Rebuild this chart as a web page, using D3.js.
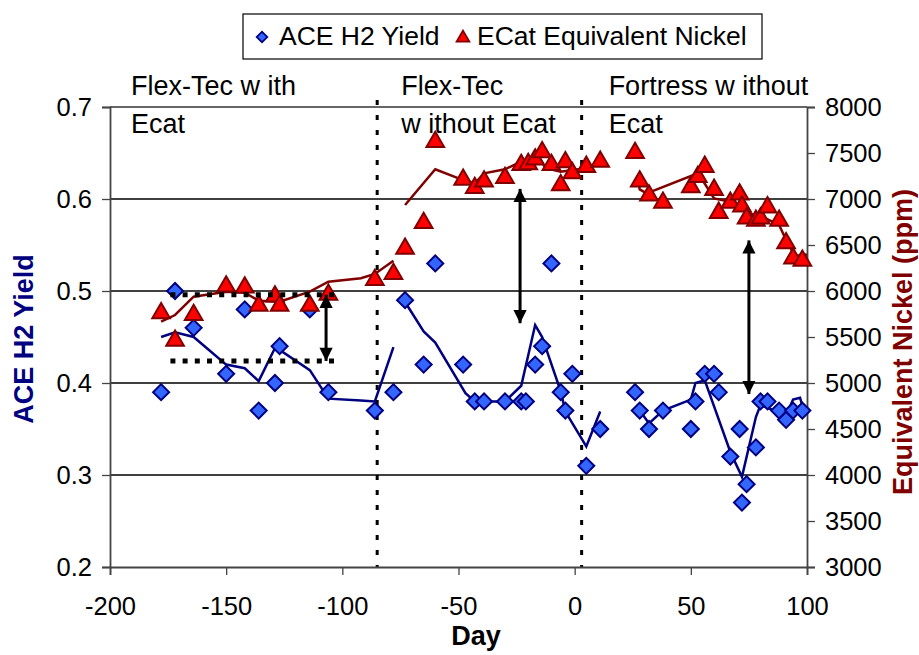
<!DOCTYPE html>
<html>
<head>
<meta charset="utf-8">
<script src="https://cdn.jsdelivr.net/npm/d3@7/dist/d3.min.js"></script>
<style>
  html, body { margin: 0; padding: 0; background: #fff; }
  svg { display: block; font-family: "Liberation Sans", Arial, sans-serif; }
</style>
</head>
<body>
<svg id="chart" width="919" height="655"></svg>
<script>
// ---- data ----
const yieldDays = [-178, -172, -164, -150, -142, -136, -129, -127, -114, -106,
  -86, -78, -73, -65, -60, -48, -43, -39, -30, -23, -21, -17, -14, -10, -6, -4, -1, 5, 11,
  26, 28, 32, 38, 50, 52, 56, 60, 62, 67, 71, 72, 74, 78, 80, 83, 88, 91, 94, 98];
const yieldValues = [0.39, 0.50, 0.46, 0.41, 0.48, 0.37, 0.40, 0.44, 0.48, 0.39,
  0.37, 0.39, 0.49, 0.42, 0.53, 0.42, 0.38, 0.38, 0.38, 0.38, 0.38, 0.42, 0.44, 0.53, 0.39, 0.37, 0.41, 0.31, 0.35,
  0.39, 0.37, 0.35, 0.37, 0.35, 0.38, 0.41, 0.41, 0.39, 0.32, 0.35, 0.27, 0.29, 0.33, 0.38, 0.38, 0.37, 0.36, 0.37, 0.37];

const nickelDays = [-178, -172, -164, -150, -142, -136, -129, -127, -114, -106,
  -86, -78, -73, -65, -60, -48, -43, -39, -30, -23, -20, -17, -14, -10, -6, -4, -1, 5, 11,
  26, 28, 32, 38, 50, 53, 56, 60, 62, 67, 71, 72, 74, 78, 80, 83, 88, 91, 94, 98];
const nickelValues = [5760, 5460, 5740, 6050, 6040, 5840, 5940, 5840, 5840, 5960,
  6120, 6185, 6460, 6740, 7620, 7210, 7120, 7190, 7230, 7370, 7380, 7430, 7510, 7370, 7150, 7400, 7280, 7350, 7405,
  7500, 7190, 7040, 6960, 7130, 7240, 7350, 7100, 6850, 6960, 7050, 6920, 6790, 6765, 6790, 6910, 6765, 6520, 6355, 6330];

// smoothed trend, one segment per operating period
const yieldTrendDays = [
  [-178, -172, -164, -150, -142, -136, -129, -127, -114, -106, -92, -86, -78],
  [-73, -65, -60, -47, -43, -39, -30, -23, -17, -14, -6, -4, 5, 11],
  [28, 32, 38, 50, 52, 56, 67, 72, 78, 80, 84, 88, 91, 94, 97, 98.5]
];
const yieldTrendValues = [
  [0.450, 0.455, 0.450, 0.420, 0.416, 0.402, 0.438, 0.436, 0.414, 0.383, 0.381, 0.380, 0.439],
  [0.488, 0.456, 0.444, 0.389, 0.380, 0.380, 0.380, 0.397, 0.463, 0.450, 0.391, 0.369, 0.331, 0.369],
  [0.370, 0.356, 0.370, 0.382, 0.400, 0.403, 0.325, 0.298, 0.363, 0.376, 0.372, 0.368, 0.365, 0.382, 0.384, 0.371]
];
const nickelTrendDays = [
  [-178, -172, -164, -150, -142, -136, -127, -114, -106, -92, -86, -78],
  [-73, -60, -48, -43, -39, -30, -23, -16, -12, -6, -1, 5, 11],
  [27, 28, 31, 53, 55, 60, 67, 74, 78, 80, 88, 91, 95, 98, 100]
];
const nickelTrendValues = [
  [5667, 5739, 5938, 5993, 5982, 5895, 5884, 5993, 6101, 6138, 6185, 6329],
  [6935, 7323, 7206, 7170, 7279, 7323, 7405, 7442, 7334, 7297, 7315, 7334, 7388],
  [7243, 7105, 7062, 7279, 7206, 7007, 6971, 6880, 6801, 6815, 6717, 6554, 6373, 6402, 6391]
];

// period boundaries and labels
const periodBoundaries = [-85, 3];
const periodStarts = [-200, -85, 3];
const periodLabels = [["Flex-Tec w ith", "Ecat"], ["Flex-Tec", "w ithout Ecat"], ["Fortress w ithout", "Ecat"]];

// yield-gap markers (left axis units)
const gapDays = [-107, -23.5, 75];
const gapTop = [0.496, 0.611, 0.555];
const gapBottom = [0.424, 0.465, 0.388];
const levelLineDays = [-174, -101];
const levelLineValues = [0.496, 0.424];

const xTicks = [-200, -150, -100, -50, 0, 50, 100];
const leftTicks = [0.2, 0.3, 0.4, 0.5, 0.6, 0.7];
const rightTicks = [3000, 3500, 4000, 4500, 5000, 5500, 6000, 6500, 7000, 7500, 8000];

const seriesNames = ["ACE H2 Yield", "ECat Equivalent Nickel"];

// ---- layout ----
const plot = { left: 110, right: 807, top: 107, bottom: 567 };
const svg = d3.select("#chart");

const x = d3.scaleLinear().domain([-200, 100]).range([plot.left, plot.right]);
const yL = d3.scaleLinear().domain([0.2, 0.7]).range([plot.bottom, plot.top]);
const yR = d3.scaleLinear().domain([3000, 8000]).range([plot.bottom, plot.top]);

const navy = "#000080", blueFill = "#3366FF";
const darkRed = "#800000", redFill = "#FF0000";

// gridlines
svg.append("g").selectAll("line").data(leftTicks.slice(1, -1)).join("line")
  .attr("x1", plot.left).attr("x2", plot.right)
  .attr("y1", d => yL(d)).attr("y2", d => yL(d))
  .attr("stroke", "#000").attr("stroke-width", 1.3);
svg.append("line")
  .attr("x1", plot.left).attr("x2", plot.right)
  .attr("y1", plot.top).attr("y2", plot.top)
  .attr("stroke", "#666").attr("stroke-width", 1.8);

// period boundaries
svg.append("g").selectAll("line").data(periodBoundaries).join("line")
  .attr("x1", d => x(d)).attr("x2", d => x(d))
  .attr("y1", plot.top - 7).attr("y2", plot.bottom)
  .attr("stroke", "#000").attr("stroke-width", 3)
  .attr("stroke-dasharray", "5,10");

// axes
function styleAxis(g) {
  g.selectAll(".domain").attr("stroke", "#444").attr("stroke-width", 1.8);
  g.selectAll(".tick line").attr("stroke", "#444").attr("stroke-width", 1.3);
  g.selectAll(".tick text").attr("fill", "#000").style("font-size", "25.5px")
    .style("font-family", "'Liberation Sans', Arial, sans-serif");
}
svg.append("g").attr("transform", `translate(0,${plot.bottom})`)
  .call(d3.axisBottom(x).tickValues(xTicks).tickSize(8).tickPadding(22).tickFormat(d3.format("d")))
  .call(styleAxis);
svg.append("g").attr("transform", `translate(${plot.left},0)`)
  .call(d3.axisLeft(yL).tickValues(leftTicks).tickSize(8).tickPadding(10).tickFormat(d3.format(".1f")))
  .call(styleAxis);
svg.append("g").attr("transform", `translate(${plot.right},0)`)
  .call(d3.axisRight(yR).tickValues(rightTicks).tickSize(8).tickPadding(10).tickFormat(d3.format("d")))
  .call(styleAxis);
svg.selectAll(".tick text").filter(function () { return this.textContent.startsWith("−"); })
  .text(function () { return this.textContent.replace("−", "-"); });

// axis titles
svg.append("text").attr("x", 476).attr("y", 645).attr("text-anchor", "middle")
  .style("font-size", "27px").style("font-weight", "bold").attr("fill", "#000").text("Day");
svg.append("text").attr("transform", "translate(33,339) rotate(-90)").attr("text-anchor", "middle")
  .style("font-size", "27px").style("font-weight", "bold").attr("fill", navy).text("ACE H2 Yield");
svg.append("text").attr("transform", "translate(912,342) rotate(-90)").attr("text-anchor", "middle")
  .style("font-size", "27px").style("font-weight", "bold").attr("fill", darkRed).text("Equivalent Nickel (ppm)");

// period labels
const labelOffsets = [21, 24, 27];
periodLabels.forEach((lines, i) => {
  const t = svg.append("text").style("font-size", "27px").attr("fill", "#000");
  lines.forEach((s, j) => t.append("tspan").attr("x", x(periodStarts[i]) + labelOffsets[i])
    .attr("y", 95 + j * 38).text(s));
});

// trend lines
const yieldLine = d3.line().x(d => x(d[0])).y(d => yL(d[1]));
const nickelLine = d3.line().x(d => x(d[0])).y(d => yR(d[1]));
yieldTrendDays.forEach((ds, i) => {
  svg.append("path").datum(ds.map((d, j) => [d, yieldTrendValues[i][j]]))
    .attr("d", yieldLine).attr("fill", "none").attr("stroke", navy).attr("stroke-width", 2.5);
});
nickelTrendDays.forEach((ds, i) => {
  svg.append("path").datum(ds.map((d, j) => [d, nickelTrendValues[i][j]]))
    .attr("d", nickelLine).attr("fill", "none").attr("stroke", darkRed).attr("stroke-width", 2.5);
});

// markers
const diamond = d3.symbol().type(d3.symbolSquare).size(128);
const triangle = d3.symbol().type(d3.symbolTriangle).size(135);

svg.append("g").selectAll("path").data(yieldDays.map((d, i) => [d, yieldValues[i]])).join("path")
  .attr("d", diamond)
  .attr("transform", d => `translate(${x(d[0])},${yL(d[1])}) rotate(45)`)
  .attr("fill", blueFill).attr("stroke", navy).attr("stroke-width", 2);

svg.append("g").selectAll("path").data(nickelDays.map((d, i) => [d, nickelValues[i]])).join("path")
  .attr("d", triangle)
  .attr("transform", d => `translate(${x(d[0])},${yR(d[1])})`)
  .attr("fill", redFill).attr("stroke", darkRed).attr("stroke-width", 2);

// level lines and gap arrows
svg.append("g").selectAll("line").data(levelLineValues).join("line")
  .attr("x1", x(levelLineDays[0])).attr("x2", x(levelLineDays[1]))
  .attr("y1", d => yL(d)).attr("y2", d => yL(d))
  .attr("stroke", "#000").attr("stroke-width", 5).attr("stroke-dasharray", "5,7.2");

const defs = svg.append("defs");
defs.append("marker").attr("id", "head").attr("viewBox", "0 0 10 10")
  .attr("refX", 10).attr("refY", 5).attr("markerWidth", 4.6).attr("markerHeight", 4.4)
  .attr("markerUnits", "strokeWidth").attr("orient", "auto-start-reverse")
  .append("path").attr("d", "M0,0 L10,5 L0,10 Z").attr("fill", "#000");

svg.append("g").selectAll("line").data(gapDays).join("line")
  .attr("x1", d => x(d)).attr("x2", d => x(d))
  .attr("y1", (d, i) => yL(gapTop[i])).attr("y2", (d, i) => yL(gapBottom[i]))
  .attr("stroke", "#000").attr("stroke-width", 3)
  .attr("marker-start", "url(#head)").attr("marker-end", "url(#head)");

// legend
const legend = svg.append("g");
legend.append("rect").attr("x", 243).attr("y", 14).attr("width", 519).attr("height", 45)
  .attr("fill", "#fff").attr("stroke", "#000").attr("stroke-width", 1.2);
legend.append("path").attr("d", d3.symbol().type(d3.symbolSquare).size(56))
  .attr("transform", "translate(262,37) rotate(45)")
  .attr("fill", blueFill).attr("stroke", navy).attr("stroke-width", 1.8);
legend.append("text").attr("x", 279).attr("y", 45).style("font-size", "26.5px").text(seriesNames[0]);
legend.append("path").attr("d", d3.symbol().type(d3.symbolTriangle).size(70))
  .attr("transform", "translate(463,38)")
  .attr("fill", redFill).attr("stroke", darkRed).attr("stroke-width", 1.8);
legend.append("text").attr("x", 477).attr("y", 45).style("font-size", "26.5px").text(seriesNames[1]);
</script>
</body>
</html>
